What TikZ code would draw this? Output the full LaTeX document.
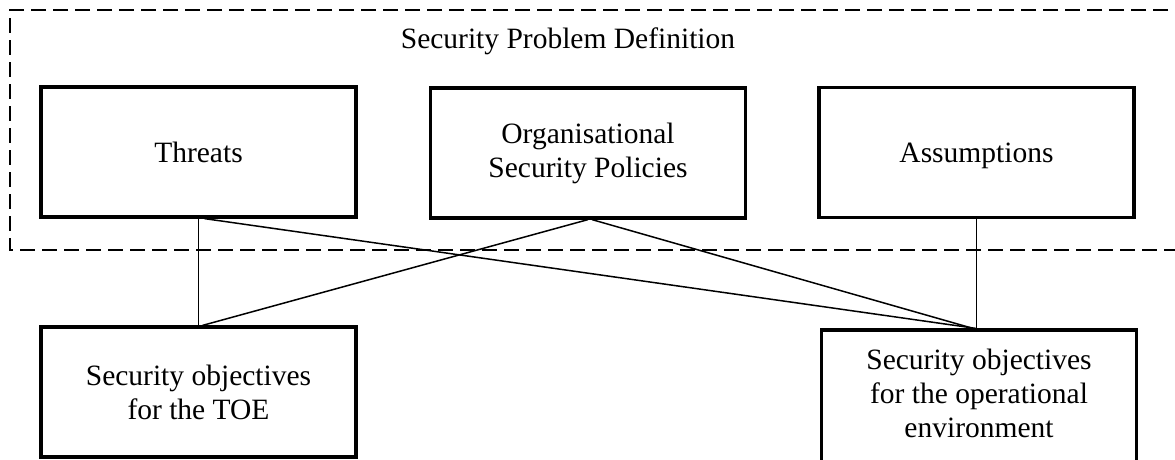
\documentclass[tikz,border=0pt]{standalone}
\usepackage{fontspec}
\setmainfont{Liberation Serif}
\begin{document}
\begin{tikzpicture}[x=1pt,y=-1pt,
  txt/.style={font=\fontsize{29.5}{34}\selectfont},
  box/.style={draw, line width=3.2pt, minimum width=315pt, minimum height=130pt, inner sep=0pt, align=center, txt},
  link/.style={line width=1.5pt},
  frame/.style={line width=2.7pt, dash pattern=on 15pt off 7pt}]
\useasboundingbox (0,0) rectangle (1175,459);
\clip (0,0) rectangle (1175,459);
\draw[frame] (1190,10) -- (10,10) -- (10,250) -- (1190,250);
\node[txt] (title) at (568,41) {Security Problem Definition};
\node[box] (thr) at (198.5,152) {Threats};
\node[box] (osp) at (588,153) {Organisational\\Security Policies};
\node[box, text depth=0pt] (ass) at (976.5,152.5) {Assumptions};
\node[box] (toe) at (198.5,392) {Security objectives\\for the TOE};
\node[box, minimum height=140pt] (env) at (979,400) {};
\node[align=center, txt, anchor=north, inner sep=0pt] (envt) at ([yshift=-20pt]env.north) {Security objectives\\for the operational\\environment};
\draw[link] (thr.south) -- (toe.north);
\draw[link] ([xshift=6pt]thr.south) -- ([xshift=-3pt]env.north);
\draw[link] (osp.south) -- ([xshift=4pt]toe.north);
\draw[link] ([xshift=4pt]osp.south) -- ([xshift=-6pt]env.north);
\draw[link] (ass.south) -- (ass.south |- env.north);
\end{tikzpicture}
\end{document}
